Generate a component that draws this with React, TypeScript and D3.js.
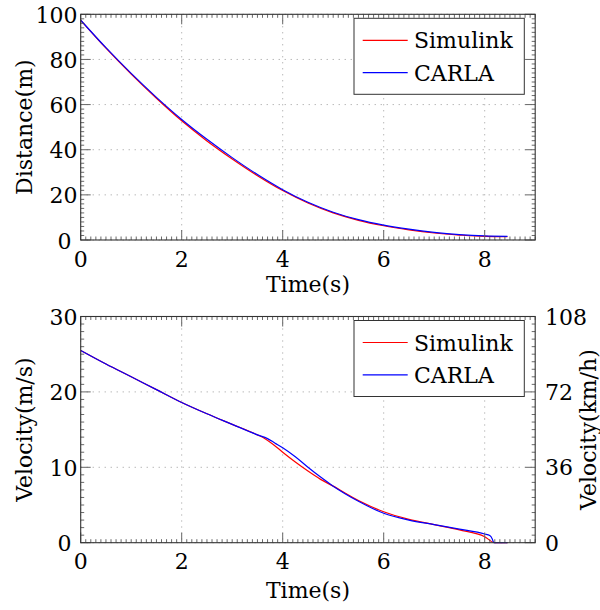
import React from 'react';
import * as d3 from 'd3';

// ---- data ----
const distTime = [0, 0.5, 1, 1.5, 2, 2.5, 3, 3.5, 4, 4.5, 5, 5.5, 6, 6.5, 7, 7.5, 8, 8.45];
const distSimulink = [97.4, 85.0, 73.5, 62.8, 52.8, 43.9, 35.9, 28.5, 21.9, 16.4, 12.0, 8.7, 6.3, 4.5, 3.1, 2.2, 1.6, 1.5];
const distCarla = [97.4, 85.2, 73.8, 63.2, 53.4, 44.6, 36.5, 29.0, 22.3, 16.7, 12.3, 9.0, 6.6, 4.8, 3.4, 2.4, 1.8, 1.6];

const velTimeSimulink = [0, 0.5, 1, 1.5, 2, 2.5, 3, 3.5, 3.65, 3.8, 4, 4.25, 4.5, 4.75, 5, 5.5, 6, 6.5, 7, 7.5, 8, 8.2, 8.45];
const velSimulink = [25.5, 23.7, 22.0, 20.3, 18.6, 17.1, 15.7, 14.3, 13.8, 13.1, 12.0, 10.7, 9.5, 8.4, 7.5, 5.6, 4.1, 3.1, 2.4, 1.7, 0.8, 0, 0];
const velTimeCarla = [0, 0.5, 1, 1.5, 2, 2.5, 3, 3.5, 3.7, 3.85, 4, 4.25, 4.5, 4.75, 5, 5.5, 6, 6.5, 7, 7.5, 8, 8.1, 8.15, 8.18, 8.45];
const velCarla = [25.5, 23.7, 22.0, 20.3, 18.6, 17.1, 15.7, 14.3, 13.8, 13.2, 12.6, 11.4, 10.0, 8.7, 7.5, 5.5, 3.9, 3.0, 2.4, 1.8, 1.15, 0.95, 0.5, 0, 0];

const xTicks = [0, 2, 4, 6, 8];
const distTicks = [0, 20, 40, 60, 80, 100];
const velTicks = [0, 10, 20, 30];
const kmhTicks = [0, 36, 72, 108];
const seriesNames = ['Simulink', 'CARLA'];
const seriesColors = ['#ff0000', '#0000ff'];

const FONT = "'DejaVu Serif', serif";
const FS = 22;

type Series = { t: number[]; v: number[]; color: string; name: string };

function Plot(props: {
  top: number; bottom: number; yDomain: [number, number]; yTicks: number[]; yMinor: number;
  series: Series[]; ylabel: string; xlabelBase: number; tickBase: number;
  right?: { ticks: number[]; domain: [number, number]; label: string };
}) {
  const { top, bottom, yDomain, yTicks, yMinor, series, ylabel, xlabelBase, tickBase, right } = props;
  const x = d3.scaleLinear().domain([0, 9]).range([80.7, 535.2]);
  const y = d3.scaleLinear().domain(yDomain).range([bottom, top]);
  const left = x.range()[0], rgt = x.range()[1];
  const line = d3.line<[number, number]>().x(d => x(d[0])).y(d => y(d[1])).curve(d3.curveMonotoneX);
  const xMinor = d3.range(0, 9.0001, 0.1).filter(v => Math.abs(v / 2 - Math.round(v / 2)) > 1e-6);
  const yMin = d3.range(yDomain[0], yDomain[1] + 1e-6, yMinor).filter(v => !yTicks.some(t => Math.abs(t - v) < 1e-6));
  const yr = right ? d3.scaleLinear().domain(right.domain).range([bottom, top]) : null;
  const lx0 = 354, lx1 = 524.3, ly0 = top + 4, ly1 = top + 80;
  const mid = (top + bottom) / 2;
  return (
    <g>
      {/* grid */}
      {xTicks.map(t => (
        <line key={'gx' + t} x1={x(t)} x2={x(t)} y1={top} y2={bottom} stroke="#9a9a9a" strokeWidth={1} strokeDasharray="1,5" />
      ))}
      {yTicks.map(t => (
        <line key={'gy' + t} x1={left} x2={rgt} y1={y(t)} y2={y(t)} stroke="#9a9a9a" strokeWidth={1} strokeDasharray="1,5" />
      ))}
      {/* data */}
      {series.map(s => (
        <path key={s.name} d={line(s.t.map((tt, i) => [tt, s.v[i]]) as [number, number][]) || ''} fill="none" stroke={s.color} strokeWidth={1.2} />
      ))}
      {/* minor ticks */}
      {xMinor.map(t => (
        <g key={'mx' + t}>
          <line x1={x(t)} x2={x(t)} y1={bottom} y2={bottom - 3.5} stroke="#444" strokeWidth={0.8} />
          <line x1={x(t)} x2={x(t)} y1={top} y2={top + 3.5} stroke="#444" strokeWidth={0.8} />
        </g>
      ))}
      {yMin.map(t => (
        <g key={'my' + t}>
          <line x1={left} x2={left + 3.5} y1={y(t)} y2={y(t)} stroke="#444" strokeWidth={0.8} />
          <line x1={rgt} x2={rgt - 3.5} y1={y(t)} y2={y(t)} stroke="#444" strokeWidth={0.8} />
        </g>
      ))}
      {/* major ticks */}
      {xTicks.map(t => (
        <g key={'Mx' + t}>
          <line x1={x(t)} x2={x(t)} y1={bottom} y2={bottom - 10} stroke="#666" strokeWidth={1} />
          <line x1={x(t)} x2={x(t)} y1={top} y2={top + 10} stroke="#666" strokeWidth={1} />
        </g>
      ))}
      {yTicks.map(t => (
        <g key={'My' + t}>
          <line x1={left} x2={left + 10} y1={y(t)} y2={y(t)} stroke="#666" strokeWidth={1} />
          <line x1={rgt} x2={rgt - 10} y1={y(t)} y2={y(t)} stroke="#666" strokeWidth={1} />
        </g>
      ))}
      {/* frame */}
      <rect x={left} y={top} width={rgt - left} height={bottom - top} fill="none" stroke="#333" strokeWidth={1.1} />
      {/* tick labels */}
      {xTicks.map(t => (
        <text key={'lx' + t} x={x(t)} y={bottom + tickBase} textAnchor="middle" fontFamily={FONT} fontSize={FS}>{t}</text>
      ))}
      {yTicks.map(t => (
        <text key={'ly' + t} x={t === 0 ? 71.5 : 77.5} y={y(t) + 8.5} textAnchor="end" fontFamily={FONT} fontSize={FS}>{t}</text>
      ))}
      {right && yr && right.ticks.map(t => (
        <text key={'lr' + t} x={545} y={yr(t) + 8} textAnchor="start" fontFamily={FONT} fontSize={FS}>{t}</text>
      ))}
      {/* axis labels */}
      <text x={(left + rgt) / 2} y={xlabelBase} textAnchor="middle" fontFamily={FONT} fontSize={FS}>Time(s)</text>
      <text transform={`translate(32,${mid}) rotate(-90)`} textAnchor="middle" fontFamily={FONT} fontSize={FS}>{ylabel}</text>
      {right && (
        <text transform={`translate(596,${mid}) rotate(-90)`} textAnchor="middle" fontFamily={FONT} fontSize={FS}>{right.label}</text>
      )}
      {/* legend */}
      <rect x={lx0} y={ly0} width={lx1 - lx0} height={ly1 - ly0} fill="#fff" stroke="#333" strokeWidth={1} />
      {series.map((s, i) => (
        <g key={'lg' + s.name}>
          <line x1={362.7} x2={407.7} y1={top + 26 + i * 32.3} y2={top + 26 + i * 32.3} stroke={s.color} strokeWidth={1.2} />
          <text x={414} y={top + 34 + i * 32.3} fontFamily={FONT} fontSize={FS}>{s.name}</text>
        </g>
      ))}
    </g>
  );
}

export default function App() {
  const distSeries: Series[] = [
    { t: distTime, v: distSimulink, color: seriesColors[0], name: seriesNames[0] },
    { t: distTime, v: distCarla, color: seriesColors[1], name: seriesNames[1] },
  ];
  const velSeries: Series[] = [
    { t: velTimeSimulink, v: velSimulink, color: seriesColors[0], name: seriesNames[0] },
    { t: velTimeCarla, v: velCarla, color: seriesColors[1], name: seriesNames[1] },
  ];
  return (
    <svg width={600} height={610} style={{ position: 'absolute', left: 0, top: 0, background: '#fff' }}>
      <rect x={0} y={0} width={600} height={610} fill="#fff" />
      <Plot top={14.3} bottom={240} yDomain={[0, 100]} yTicks={distTicks} yMinor={2}
        series={distSeries} ylabel="Distance(m)" xlabelBase={292} tickBase={27} />
      <Plot top={316.5} bottom={542.7} yDomain={[0, 30]} yTicks={velTicks} yMinor={1}
        series={velSeries} ylabel="Velocity(m/s)" xlabelBase={598} tickBase={26.5}
        right={{ ticks: kmhTicks, domain: [0, 108], label: 'Velocity(km/h)' }} />
    </svg>
  );
}
